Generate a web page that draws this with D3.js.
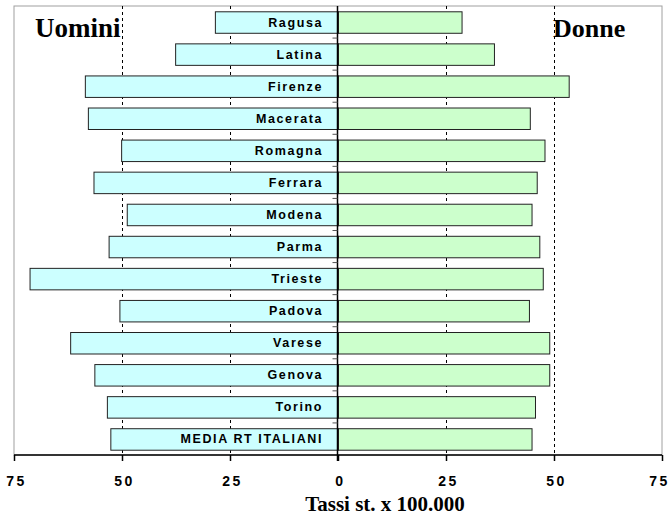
<!DOCTYPE html>
<html>
<head>
<meta charset="utf-8">
<script src="https://cdn.jsdelivr.net/npm/d3@7"></script>
<style>
  body { margin: 0; background: #fff; }
</style>
</head>
<body>
<div id="chart"></div>
<script>
// Dati: tassi standardizzati x 100.000
const cities = ['Ragusa', 'Latina', 'Firenze', 'Macerata', 'Romagna', 'Ferrara', 'Modena',
  'Parma', 'Trieste', 'Padova', 'Varese', 'Genova', 'Torino', 'MEDIA RT ITALIANI']
const uomini = [28.5, 37.7, 58.6, 57.9, 50.2, 56.6, 48.9, 53.1, 71.4, 50.6, 62.0, 56.4, 53.5, 52.7]
const donne = [28.6, 36.1, 53.4, 44.4, 47.8, 46.0, 44.8, 46.6, 47.4, 44.2, 48.9, 48.9, 45.6, 44.8]
const xTicks = [-75, -50, -25, 0, 25, 50, 75]
const gridTicks = [-50, -25, 25, 50]

const width = 669, height = 517
const pLeft = 14, pRight = 662, pTop = 6, pBottom = 455

const svg = d3.select('#chart').append('svg')
  .attr('width', width)
  .attr('height', height)

const x = d3.scaleLinear().domain([-75, 75]).range([pLeft, pRight])
const y = d3.scaleBand().domain(cities).range([pTop, pBottom])
  .paddingInner(0.33).paddingOuter(0.165)

// bordo area del grafico
svg.append('rect')
  .attr('x', pLeft).attr('y', pTop)
  .attr('width', pRight - pLeft).attr('height', pBottom - pTop)
  .attr('fill', 'none')
  .attr('stroke', '#a0a0a0')
  .attr('stroke-width', 1)

// griglia tratteggiata
svg.selectAll('.grid').data(gridTicks).join('line')
  .attr('class', 'grid')
  .attr('x1', d => x(d) + 0.5).attr('x2', d => x(d) + 0.5)
  .attr('y1', pTop).attr('y2', pBottom)
  .attr('stroke', '#000')
  .attr('stroke-width', 1)
  .attr('stroke-dasharray', '3,3')

// titoli laterali
svg.append('text')
  .attr('x', 35).attr('y', 37)
  .attr('font-family', '"Liberation Serif", "Times New Roman", serif')
  .attr('font-weight', 'bold')
  .attr('font-size', 27)
  .text('Uomini')

svg.append('text')
  .attr('x', 553).attr('y', 37)
  .attr('font-family', '"Liberation Serif", "Times New Roman", serif')
  .attr('font-weight', 'bold')
  .attr('font-size', 26)
  .text('Donne')

// barre uomini (a sinistra)
svg.selectAll('.bar-u').data(cities).join('rect')
  .attr('class', 'bar-u')
  .attr('x', (d, i) => x(-uomini[i]) + 0.5)
  .attr('y', d => y(d) + 0.5)
  .attr('width', (d, i) => x(0) - x(-uomini[i]))
  .attr('height', y.bandwidth())
  .attr('fill', '#ccffff')
  .attr('stroke', '#222')
  .attr('stroke-width', 1)

// barre donne (a destra)
svg.selectAll('.bar-d').data(cities).join('rect')
  .attr('class', 'bar-d')
  .attr('x', x(0) + 0.5)
  .attr('y', d => y(d) + 0.5)
  .attr('width', (d, i) => x(donne[i]) - x(0))
  .attr('height', y.bandwidth())
  .attr('fill', '#ccffcc')
  .attr('stroke', '#222')
  .attr('stroke-width', 1)

// etichette città
svg.selectAll('.lab').data(cities).join('text')
  .attr('class', 'lab')
  .attr('x', x(0) - 15)
  .attr('y', d => y(d) + y.bandwidth() / 2 + 4.5)
  .attr('text-anchor', 'end')
  .attr('font-family', '"Liberation Sans", Arial, sans-serif')
  .attr('font-weight', 'bold')
  .attr('font-size', 12.5)
  .attr('letter-spacing', '1.6px')
  .text(d => d)

// asse categorie a zero
const zx = x(0) - 0.5
svg.append('line')
  .attr('x1', zx).attr('x2', zx)
  .attr('y1', pTop).attr('y2', pBottom + 6)
  .attr('stroke', '#000').attr('stroke-width', 1.5)

const step = y.step()
const bounds = d3.range(1, cities.length).map(i => pTop + i * step)
svg.selectAll('.ctick').data(bounds).join('line')
  .attr('class', 'ctick')
  .attr('x1', zx - 5).attr('x2', zx)
  .attr('y1', d => d).attr('y2', d => d)
  .attr('stroke', '#555').attr('stroke-width', 1)

// asse x
const axis = svg.append('g')
  .attr('transform', `translate(0,${pBottom})`)
  .call(d3.axisBottom(x).tickValues(xTicks).tickSize(6).tickFormat(d => Math.abs(d)))
axis.select('.domain').attr('stroke', '#000').attr('stroke-width', 1.5)
  .attr('d', `M${pLeft},0H${pRight}`)
axis.selectAll('.tick line').attr('stroke', '#000').attr('stroke-width', 1.5)
axis.selectAll('.tick text')
  .attr('y', 21)
  .attr('x', d => d === 75 ? -3 : 2)
  .attr('dy', '0.71em')
  .attr('fill', '#000')
  .attr('font-family', '"Liberation Sans", Arial, sans-serif')
  .attr('font-weight', 'bold')
  .attr('font-size', 14)
  .attr('letter-spacing', '2.5px')

// titolo asse
svg.append('text')
  .attr('x', 385).attr('y', 511)
  .attr('text-anchor', 'middle')
  .attr('font-family', '"Liberation Serif", "Times New Roman", serif')
  .attr('font-weight', 'bold')
  .attr('font-size', 21)
  .text('Tassi st. x 100.000')
</script>
</body>
</html>
